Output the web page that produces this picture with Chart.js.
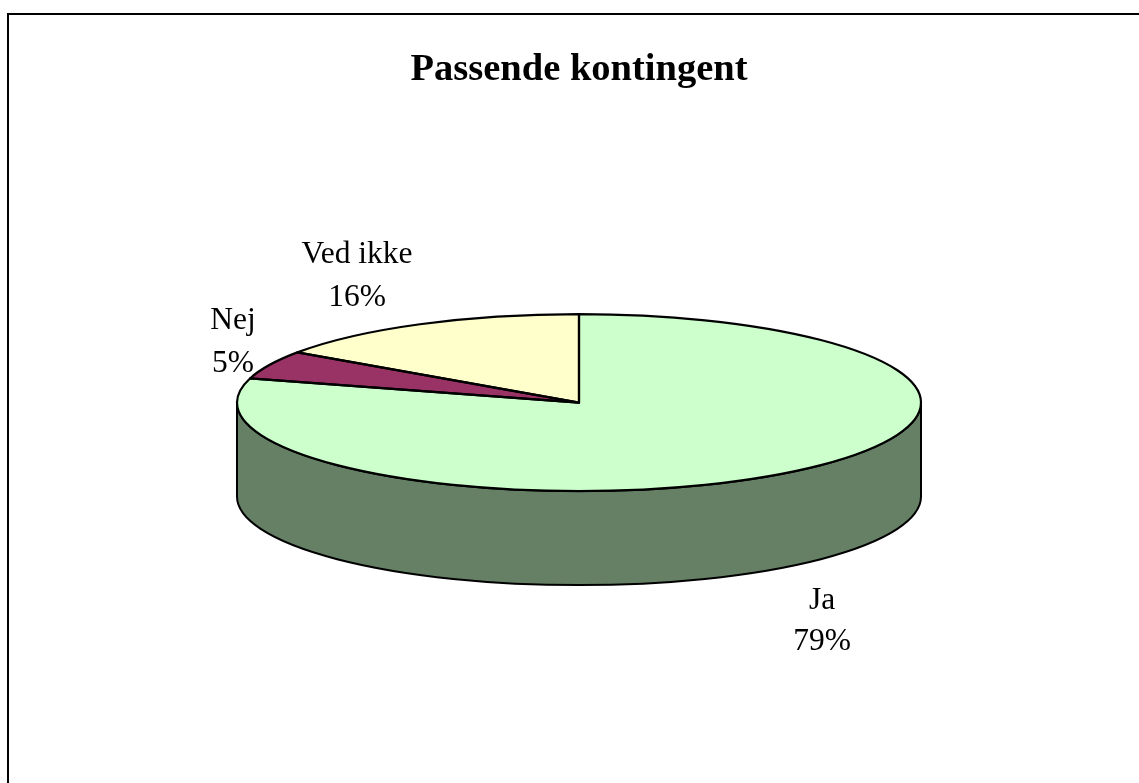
<!DOCTYPE html>
<html lang="da">
<head>
<meta charset="utf-8">
<title>Passende kontingent</title>
<script src="https://cdn.jsdelivr.net/npm/chart.js@4"></script>
<style>
html,body{margin:0;padding:0;background:#fff;overflow:hidden}
canvas{display:block}
</style>
</head>
<body>
<canvas id="c" width="1139" height="783"></canvas>
<script>
const chartTitle = "Passende kontingent";
const categories = ["Ja", "Nej", "Ved ikke"];
const values = [79.4, 5.2, 15.4];
const percentLabels = ["79%", "5%", "16%"];
const sliceColors = ["#CCFFCC", "#993366", "#FFFFCC"];
const sideColors = ["#668066", "#4D1A33", "#808066"];

const tilt = 88.5 / 342;
const depth = 94;
const labelCenters = [[822, 609, 650], [233, 329, 372], [357, 263, 306]];
const labelFont = '31.5px "Liberation Serif", serif';

function outlinePath(ctx, a, rx, ry) {
  ctx.beginPath();
  ctx.moveTo(a.x, a.y);
  ctx.ellipse(a.x, a.y, rx, ry, 0, a.startAngle, a.endAngle);
  ctx.closePath();
}

const pie3d = {
  id: "pie3d",
  beforeDraw(chart) {
    const ctx = chart.ctx;
    ctx.save();
    ctx.strokeStyle = "#000";
    ctx.lineWidth = 2;
    ctx.strokeRect(8, 14, 1300, 1000);
    ctx.restore();
  },
  beforeDatasetsDraw(chart) {
    const ctx = chart.ctx;
    const arcs = chart.getDatasetMeta(0).data;
    ctx.save();
    ctx.lineWidth = 2;
    ctx.strokeStyle = "#000";
    ctx.lineJoin = "round";
    arcs.forEach((a, i) => {
      const s = Math.max(a.startAngle, 0);
      const e = Math.min(a.endAngle, Math.PI);
      if (e <= s) return;
      const ry = a.outerRadius * tilt;
      ctx.beginPath();
      ctx.ellipse(a.x, a.y, a.outerRadius, ry, 0, s, e);
      ctx.ellipse(a.x, a.y + depth, a.outerRadius, ry, 0, e, s, true);
      ctx.closePath();
      ctx.fillStyle = sideColors[i];
      ctx.fill();
      ctx.stroke();
    });
    ctx.restore();
  },
  beforeDatasetDraw(chart) {
    const ctx = chart.ctx;
    const a = chart.getDatasetMeta(0).data[0];
    ctx.save();
    ctx.translate(a.x, a.y);
    ctx.scale(1, tilt);
    ctx.translate(-a.x, -a.y);
  },
  afterDatasetDraw(chart) {
    chart.ctx.restore();
  },
  afterDatasetsDraw(chart) {
    const ctx = chart.ctx;
    const arcs = chart.getDatasetMeta(0).data;
    ctx.save();
    ctx.lineWidth = 2.2;
    ctx.strokeStyle = "#000";
    ctx.lineJoin = "round";
    arcs.forEach(a => {
      outlinePath(ctx, a, a.outerRadius, a.outerRadius * tilt);
      ctx.stroke();
    });
    ctx.fillStyle = "#000";
    ctx.font = labelFont;
    ctx.textAlign = "center";
    ctx.textBaseline = "alphabetic";
    categories.forEach((name, i) => {
      const [x, y1, y2] = labelCenters[i];
      ctx.fillText(name, x, y1);
      ctx.fillText(percentLabels[i], x, y2);
    });
    ctx.restore();
  }
};

new Chart(document.getElementById("c"), {
  type: "pie",
  data: {
    labels: categories,
    datasets: [{
      data: values,
      backgroundColor: sliceColors,
      borderWidth: 0,
      radius: 342
    }]
  },
  options: {
    responsive: false,
    animation: false,
    events: [],
    rotation: 0,
    layout: { padding: { left: 19, right: 0, top: 0, bottom: 71 } },
    plugins: {
      legend: { display: false },
      tooltip: { enabled: false },
      title: {
        display: true,
        text: chartTitle,
        color: "#000",
        font: { family: '"Liberation Serif", serif', size: 38.5, weight: "bold", lineHeight: 1.2 },
        padding: { top: 47, bottom: 0 }
      }
    }
  },
  plugins: [pie3d]
});
</script>
</body>
</html>
